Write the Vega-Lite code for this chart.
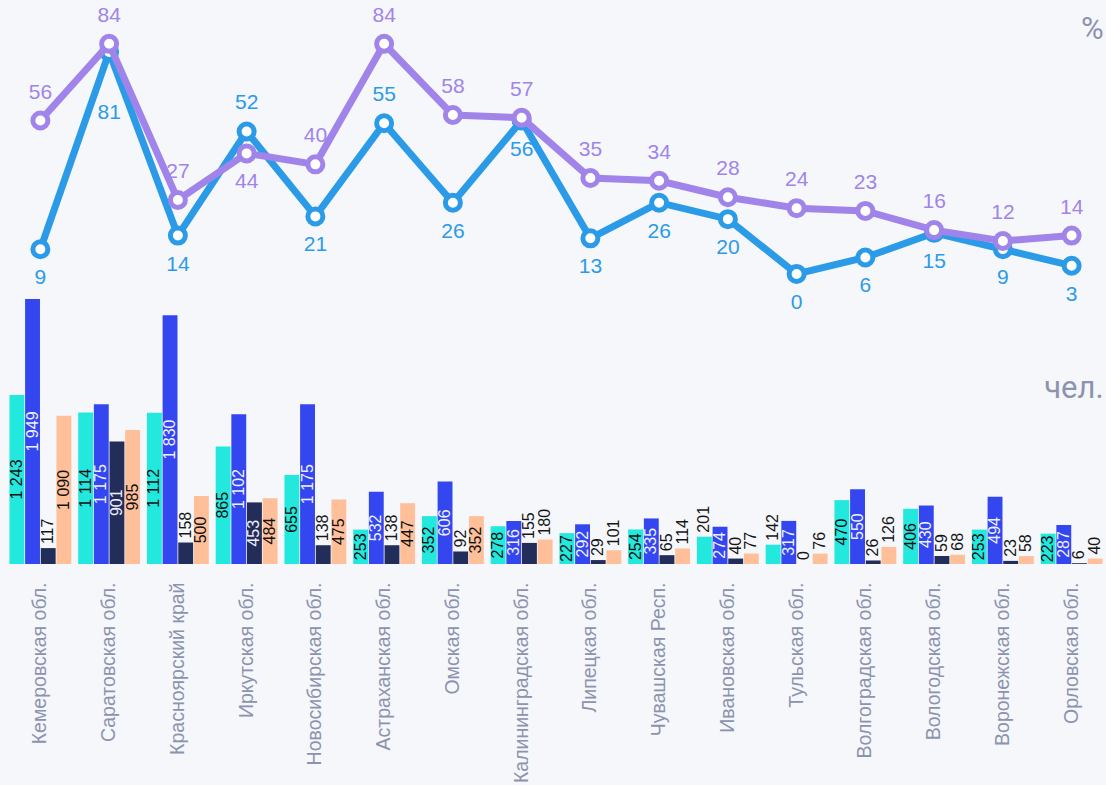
{
  "$schema": "https://vega.github.io/schema/vega-lite/v6.json",
  "width": 1100,
  "height": 564,
  "autosize": {"type": "none"},
  "padding": {"left": 6, "top": 0, "right": 0, "bottom": 221},
  "background": "#F5F7FB",
  "config": {
    "view": {"stroke": null},
    "locale": {"number": {"decimal": ",", "thousands": " ", "grouping": [3], "currency": ["", ""]}},
    "text": {"font": "Liberation Sans"}
  },
  "datasets": {
    "pct": [
      {"r": "Кемеровская обл.", "p": 56, "ps": "above", "q": 9, "qs": "below"},
      {"r": "Саратовская обл.", "p": 84, "ps": "above", "q": 81, "qs": "far"},
      {"r": "Красноярский край", "p": 27, "ps": "above", "q": 14, "qs": "below"},
      {"r": "Иркутская обл.", "p": 44, "ps": "below", "q": 52, "qs": "above"},
      {"r": "Новосибирская обл.", "p": 40, "ps": "above", "q": 21, "qs": "below"},
      {"r": "Астраханская обл.", "p": 84, "ps": "above", "q": 55, "qs": "above"},
      {"r": "Омская обл.", "p": 58, "ps": "above", "q": 26, "qs": "below"},
      {"r": "Калининградская обл.", "p": 57, "ps": "above", "q": 56, "qs": "below"},
      {"r": "Липецкая обл.", "p": 35, "ps": "above", "q": 13, "qs": "below"},
      {"r": "Чувашская Респ.", "p": 34, "ps": "above", "q": 26, "qs": "below"},
      {"r": "Ивановская обл.", "p": 28, "ps": "above", "q": 20, "qs": "below"},
      {"r": "Тульская обл.", "p": 24, "ps": "above", "q": 0, "qs": "below"},
      {"r": "Волгоградская обл.", "p": 23, "ps": "above", "q": 6, "qs": "below"},
      {"r": "Вологодская обл.", "p": 16, "ps": "above", "q": 15, "qs": "below"},
      {"r": "Воронежская обл.", "p": 12, "ps": "above", "q": 9, "qs": "below"},
      {"r": "Орловская обл.", "p": 14, "ps": "above", "q": 3, "qs": "below"}
    ],
    "cnt": [
      {"r": "Кемеровская обл.", "s": "s1", "v": 1243},
      {"r": "Кемеровская обл.", "s": "s2", "v": 1949},
      {"r": "Кемеровская обл.", "s": "s3", "v": 117},
      {"r": "Кемеровская обл.", "s": "s4", "v": 1090},
      {"r": "Саратовская обл.", "s": "s1", "v": 1114},
      {"r": "Саратовская обл.", "s": "s2", "v": 1175},
      {"r": "Саратовская обл.", "s": "s3", "v": 901},
      {"r": "Саратовская обл.", "s": "s4", "v": 985},
      {"r": "Красноярский край", "s": "s1", "v": 1112},
      {"r": "Красноярский край", "s": "s2", "v": 1830},
      {"r": "Красноярский край", "s": "s3", "v": 158},
      {"r": "Красноярский край", "s": "s4", "v": 500},
      {"r": "Иркутская обл.", "s": "s1", "v": 865},
      {"r": "Иркутская обл.", "s": "s2", "v": 1102},
      {"r": "Иркутская обл.", "s": "s3", "v": 453},
      {"r": "Иркутская обл.", "s": "s4", "v": 484},
      {"r": "Новосибирская обл.", "s": "s1", "v": 655},
      {"r": "Новосибирская обл.", "s": "s2", "v": 1175},
      {"r": "Новосибирская обл.", "s": "s3", "v": 138},
      {"r": "Новосибирская обл.", "s": "s4", "v": 475},
      {"r": "Астраханская обл.", "s": "s1", "v": 253},
      {"r": "Астраханская обл.", "s": "s2", "v": 532},
      {"r": "Астраханская обл.", "s": "s3", "v": 138},
      {"r": "Астраханская обл.", "s": "s4", "v": 447},
      {"r": "Омская обл.", "s": "s1", "v": 352},
      {"r": "Омская обл.", "s": "s2", "v": 606},
      {"r": "Омская обл.", "s": "s3", "v": 92},
      {"r": "Омская обл.", "s": "s4", "v": 352},
      {"r": "Калининградская обл.", "s": "s1", "v": 278},
      {"r": "Калининградская обл.", "s": "s2", "v": 316},
      {"r": "Калининградская обл.", "s": "s3", "v": 155},
      {"r": "Калининградская обл.", "s": "s4", "v": 180},
      {"r": "Липецкая обл.", "s": "s1", "v": 227},
      {"r": "Липецкая обл.", "s": "s2", "v": 292},
      {"r": "Липецкая обл.", "s": "s3", "v": 29},
      {"r": "Липецкая обл.", "s": "s4", "v": 101},
      {"r": "Чувашская Респ.", "s": "s1", "v": 254},
      {"r": "Чувашская Респ.", "s": "s2", "v": 335},
      {"r": "Чувашская Респ.", "s": "s3", "v": 65},
      {"r": "Чувашская Респ.", "s": "s4", "v": 114},
      {"r": "Ивановская обл.", "s": "s1", "v": 201},
      {"r": "Ивановская обл.", "s": "s2", "v": 274},
      {"r": "Ивановская обл.", "s": "s3", "v": 40},
      {"r": "Ивановская обл.", "s": "s4", "v": 77},
      {"r": "Тульская обл.", "s": "s1", "v": 142},
      {"r": "Тульская обл.", "s": "s2", "v": 317},
      {"r": "Тульская обл.", "s": "s3", "v": 0},
      {"r": "Тульская обл.", "s": "s4", "v": 76},
      {"r": "Волгоградская обл.", "s": "s1", "v": 470},
      {"r": "Волгоградская обл.", "s": "s2", "v": 550},
      {"r": "Волгоградская обл.", "s": "s3", "v": 26},
      {"r": "Волгоградская обл.", "s": "s4", "v": 126},
      {"r": "Вологодская обл.", "s": "s1", "v": 406},
      {"r": "Вологодская обл.", "s": "s2", "v": 430},
      {"r": "Вологодская обл.", "s": "s3", "v": 59},
      {"r": "Вологодская обл.", "s": "s4", "v": 68},
      {"r": "Воронежская обл.", "s": "s1", "v": 253},
      {"r": "Воронежская обл.", "s": "s2", "v": 494},
      {"r": "Воронежская обл.", "s": "s3", "v": 23},
      {"r": "Воронежская обл.", "s": "s4", "v": 58},
      {"r": "Орловская обл.", "s": "s1", "v": 223},
      {"r": "Орловская обл.", "s": "s2", "v": 287},
      {"r": "Орловская обл.", "s": "s3", "v": 6},
      {"r": "Орловская обл.", "s": "s4", "v": 40}
    ]
  },
  "encoding": {
    "x": {
      "field": "r",
      "type": "nominal",
      "sort": null,
      "scale": {
        "domain": ["Кемеровская обл.", "Саратовская обл.", "Красноярский край", "Иркутская обл.", "Новосибирская обл.", "Астраханская обл.", "Омская обл.", "Калининградская обл.", "Липецкая обл.", "Чувашская Респ.", "Ивановская обл.", "Тульская обл.", "Волгоградская обл.", "Вологодская обл.", "Воронежская обл.", "Орловская обл."],
        "paddingInner": 0.1,
        "paddingOuter": 0.05
      },
      "axis": {
        "title": null,
        "labelAngle": 270,
        "labelAlign": "right",
        "labelBaseline": "middle",
        "labelFont": "Liberation Sans",
        "labelFontSize": 19.5,
        "labelColor": "#8C93AE",
        "labelPadding": 18,
        "labelOverlap": false,
        "labelLimit": 400,
        "ticks": false,
        "domain": false,
        "grid": false
      }
    }
  },
  "layer": [
    {
      "data": {"name": "cnt"},
      "layer": [
        {
          "mark": {"type": "bar"},
          "encoding": {
            "xOffset": {"field": "s", "type": "nominal", "scale": {"domain": ["s1", "s2", "s3", "s4"], "paddingInner": 0.05}},
            "y": {"field": "v", "type": "quantitative", "scale": {"domain": [0, 4148]}, "axis": null},
            "color": {"field": "s", "type": "nominal", "scale": {"domain": ["s1", "s2", "s3", "s4"], "range": ["#22E8DE", "#3346F0", "#222D59", "#FFBF98"]}, "legend": null}
          }
        },
        {
          "transform": [{"filter": "datum.v < 210"}],
          "mark": {"type": "text", "angle": 270, "align": "left", "baseline": "middle", "dx": 4, "fontSize": 16, "color": "#161616"},
          "encoding": {
            "xOffset": {"field": "s", "type": "nominal", "scale": {"domain": ["s1", "s2", "s3", "s4"], "paddingInner": 0.05}},
            "y": {"field": "v", "type": "quantitative", "scale": {"domain": [0, 4148]}, "axis": null},
            "text": {"field": "v", "type": "quantitative", "format": ",d"}
          }
        },
        {
          "transform": [{"filter": "datum.r == 'Орловская обл.' && datum.s == 's1'"}],
          "mark": {"type": "text", "text": "чел.", "font": "Roboto", "fontSize": 31, "color": "#8C93AE", "align": "right", "baseline": "middle", "dx": 32},
          "encoding": {
            "y": {"datum": 1290, "type": "quantitative", "scale": {"domain": [0, 4148]}, "axis": null}
          }
        }
      ]
    },
    {
      "data": {"name": "cnt"},
      "transform": [{"filter": "datum.v >= 210"}],
      "mark": {"type": "text", "angle": 270, "align": "center", "baseline": "middle", "fontSize": 16},
      "encoding": {
        "xOffset": {"field": "s", "type": "nominal", "scale": {"domain": ["s1", "s2", "s3", "s4"], "paddingInner": 0.05}},
        "y": {"field": "v", "type": "quantitative", "scale": {"domain": [0, 8296]}, "axis": null},
        "text": {"field": "v", "type": "quantitative", "format": ",d"},
        "color": {"condition": {"test": "datum.s == 's2' || datum.s == 's3'", "value": "#EEF0FF"}, "value": "#111111"}
      }
    },
    {
      "data": {"name": "pct"},
      "layer": [
        {
          "mark": {"type": "line", "color": "#2B9BE8", "strokeWidth": 7},
          "encoding": {"y": {"field": "q", "type": "quantitative", "scale": {"domain": [-105.9, 100]}, "axis": null}}
        },
        {
          "mark": {"type": "point", "shape": "circle", "filled": true, "fill": "#FFFFFF", "stroke": "#2B9BE8", "strokeWidth": 5, "size": 225, "opacity": 1},
          "encoding": {"y": {"field": "q", "type": "quantitative", "scale": {"domain": [-105.9, 100]}, "axis": null}}
        },
        {
          "mark": {"type": "line", "color": "#A184EA", "strokeWidth": 7},
          "encoding": {"y": {"field": "p", "type": "quantitative", "scale": {"domain": [-105.9, 100]}, "axis": null}}
        },
        {
          "mark": {"type": "point", "shape": "circle", "filled": true, "fill": "#FFFFFF", "stroke": "#A184EA", "strokeWidth": 5, "size": 225, "opacity": 1},
          "encoding": {"y": {"field": "p", "type": "quantitative", "scale": {"domain": [-105.9, 100]}, "axis": null}}
        },
        {
          "transform": [{"filter": "datum.qs == 'above'"}],
          "mark": {"type": "text", "fontSize": 21, "color": "#2B9BE8", "baseline": "middle", "dy": -28},
          "encoding": {"y": {"field": "q", "type": "quantitative", "scale": {"domain": [-105.9, 100]}, "axis": null}, "text": {"field": "q", "type": "quantitative"}}
        },
        {
          "transform": [{"filter": "datum.qs == 'below'"}],
          "mark": {"type": "text", "fontSize": 21, "color": "#2B9BE8", "baseline": "middle", "dy": 29},
          "encoding": {"y": {"field": "q", "type": "quantitative", "scale": {"domain": [-105.9, 100]}, "axis": null}, "text": {"field": "q", "type": "quantitative"}}
        },
        {
          "transform": [{"filter": "datum.qs == 'far'"}],
          "mark": {"type": "text", "fontSize": 21, "color": "#2B9BE8", "baseline": "middle", "dy": 61},
          "encoding": {"y": {"field": "q", "type": "quantitative", "scale": {"domain": [-105.9, 100]}, "axis": null}, "text": {"field": "q", "type": "quantitative"}}
        },
        {
          "transform": [{"filter": "datum.ps == 'above'"}],
          "mark": {"type": "text", "fontSize": 21, "color": "#A184EA", "baseline": "middle", "dy": -28},
          "encoding": {"y": {"field": "p", "type": "quantitative", "scale": {"domain": [-105.9, 100]}, "axis": null}, "text": {"field": "p", "type": "quantitative"}}
        },
        {
          "transform": [{"filter": "datum.ps == 'below'"}],
          "mark": {"type": "text", "fontSize": 21, "color": "#A184EA", "baseline": "middle", "dy": 29},
          "encoding": {"y": {"field": "p", "type": "quantitative", "scale": {"domain": [-105.9, 100]}, "axis": null}, "text": {"field": "p", "type": "quantitative"}}
        },
        {
          "transform": [{"filter": "datum.r == 'Орловская обл.'"}],
          "mark": {"type": "text", "text": "%", "font": "Roboto", "fontSize": 31, "color": "#8C93AE", "align": "right", "baseline": "middle", "dx": 32},
          "encoding": {
            "y": {"datum": 89, "type": "quantitative", "scale": {"domain": [-105.9, 100]}, "axis": null}
          }
        }
      ]
    }
  ],
  "resolve": {"scale": {"y": "independent"}}
}
